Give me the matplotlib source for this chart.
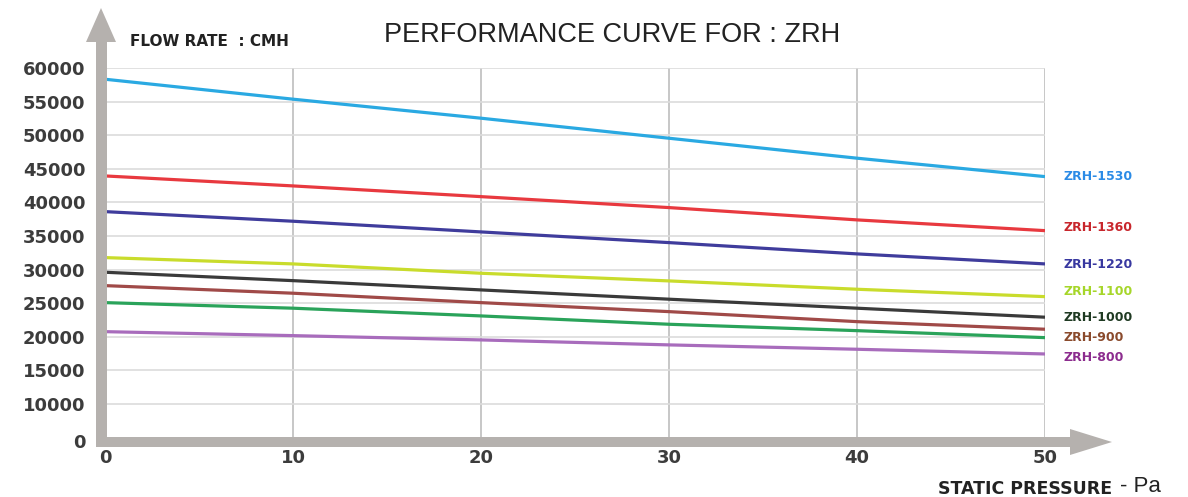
import matplotlib
matplotlib.use("Agg")
import matplotlib.pyplot as plt
from matplotlib.patches import Polygon
from matplotlib.transforms import IdentityTransform

# ---- data ----
pressure = [0, 10, 20, 30, 40, 50]
series_names = ["ZRH-1530", "ZRH-1360", "ZRH-1220", "ZRH-1100", "ZRH-1000", "ZRH-900", "", "ZRH-800"]
flow_1530 = [58330, 55360, 52530, 49550, 46580, 43840]
flow_1360 = [43940, 42455, 40860, 39230, 37400, 35800]
flow_1220 = [38630, 37200, 35610, 34020, 32340, 30850]
flow_1100 = [31790, 30850, 29460, 28320, 27080, 25980]
flow_1000 = [29610, 28360, 26980, 25600, 24260, 22920]
flow_900 = [27620, 26490, 25090, 23750, 22260, 21130]
flow_green = [25090, 24260, 23110, 21870, 20920, 19880]
flow_800 = [20770, 20180, 19540, 18800, 18150, 17450]
all_flows = [flow_1530, flow_1360, flow_1220, flow_1100, flow_1000, flow_900, flow_green, flow_800]
y_tick_labels = ["0", "10000", "15000", "20000", "25000", "30000", "35000",
                 "40000", "45000", "50000", "55000", "60000"]
x_tick_labels = ["0", "10", "20", "30", "40", "50"]

# ---- style ----
line_colors = ["#2aa9e2", "#e8393f", "#3f3c9c", "#c9dc2c", "#3a3a3a", "#a04a48", "#2aa35a", "#a86cbc"]
label_colors = ["#2b8be6", "#c8262c", "#3838a0", "#a6d62a", "#1f3a22", "#8a4a2c", None, "#8c2c8e"]
label_offsets = [0, 400, -150, 700, -100, -1300, 0, -490]

W, H = 1188, 497
fig = plt.figure(figsize=(W / 100, H / 100), dpi=100)
fig.patch.set_facecolor("white")
ax = fig.add_axes([105 / W, 1 - 441 / H, (1045 - 105) / W, (441 - 68) / H])
ax.set_facecolor("none")

for vals, c in zip(all_flows, line_colors):
    ax.plot(pressure, vals, color=c, lw=2.3, solid_capstyle="butt", zorder=3)

for name, vals, lc, off in zip(series_names, all_flows, label_colors, label_offsets):
    if name:
        ax.annotate(name, xy=(pressure[-1], vals[-1] + off), xytext=(13, 0),
                    textcoords="offset points", color=lc, fontsize=9,
                    fontweight="bold", va="center", ha="left", annotation_clip=False)

ax.set_xlim(0, 50)
ax.set_ylim(4500, 60000)
yt = [4500] + list(range(10000, 60001, 5000))
ax.set_yticks(yt)
ax.set_yticklabels(y_tick_labels, fontsize=13, fontweight="bold", color="#3c3c3c")
ax.set_xticks(pressure)
ax.set_xticklabels(x_tick_labels, fontsize=13, fontweight="bold", color="#3c3c3c")
ax.tick_params(length=0)
ax.tick_params(axis="y", pad=14)
ax.tick_params(axis="x", pad=6)
for s in ax.spines.values():
    s.set_visible(False)
ax.yaxis.grid(True, color="#dcdcdc", lw=1.2, zorder=1)
ax.xaxis.grid(True, color="#bdbdbd", lw=1.2, zorder=1)
ax.set_axisbelow(True)

# gray arrows (pixel coords, y from bottom)
def px(x, y):
    return (x, H - y)

arrow_col = "#b5b1ae"
yarrow = Polygon([px(96, 447), px(96, 42), px(86, 42), px(101, 8), px(116, 42),
                  px(107, 42), px(107, 447)], closed=True, transform=IdentityTransform(),
                 facecolor=arrow_col, edgecolor="none", zorder=5)
xarrow = Polygon([px(96, 437), px(1070, 437), px(1070, 429), px(1112, 442), px(1070, 455),
                  px(1070, 447), px(96, 447)], closed=True, transform=IdentityTransform(),
                 facecolor=arrow_col, edgecolor="none", zorder=5)
fig.add_artist(yarrow)
fig.add_artist(xarrow)

fig.text(612 / W, 1 - 35 / H, "PERFORMANCE CURVE FOR : ZRH", fontsize=19.5,
         ha="center", va="center", color="#222222", family="Liberation Sans")
fig.text(130 / W, 1 - 41 / H, "FLOW RATE  : CMH", fontsize=11, fontweight="bold",
         ha="left", va="center", color="#222222")
fig.text(1112 / W, 1 - 489 / H, "STATIC PRESSURE", fontsize=12.5, fontweight="bold",
         ha="right", va="center", color="#222222")
fig.text(1120 / W, 1 - 486 / H, "- Pa", fontsize=16,
         ha="left", va="center", color="#222222", family="Liberation Sans")

fig.savefig("out.png", dpi=100)
